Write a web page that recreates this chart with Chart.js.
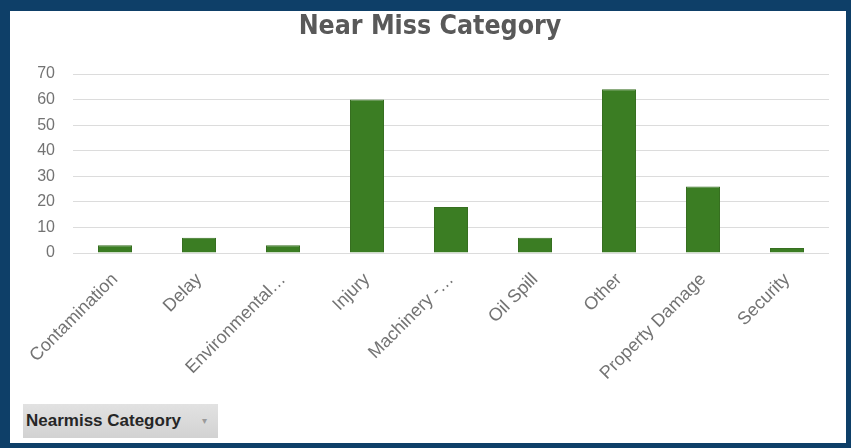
<!DOCTYPE html>
<html>
<head>
<meta charset="utf-8">
<script src="https://cdn.jsdelivr.net/npm/chart.js@4/dist/chart.umd.min.js"></script>
<style>
  html, body { margin: 0; padding: 0; background: #0e3f68; }
  #frame {
    position: absolute; left: 0; top: 0;
    width: 836px; height: 432px;
    border-style: solid; border-color: #0e3f68;
    border-width: 11px 5px 5px 10px;
    background: #ffffff;
  }
  #wrap { position: absolute; left: 0; top: 0; width: 836px; height: 432px; }
  #fieldBtn {
    position: absolute; left: 13px; top: 393px;
    width: 195px; height: 34px;
    background: linear-gradient(#e2e2e2, #d2d2d2);
    font-family: "Liberation Sans", Arial, sans-serif;
    font-size: 17px; font-weight: bold; color: #262626;
    line-height: 34px; box-sizing: border-box; padding-left: 3px;
    white-space: nowrap;
  }
  #fieldBtn span { position: absolute; left: 179px; top: 0; color: #9a9a9a; font-size: 10px; font-weight: normal; }
</style>
</head>
<body>
<div id="frame">
  <div id="wrap"><canvas id="chart" width="836" height="432"></canvas></div>
  <div id="fieldBtn">Nearmiss Category<span>▾</span></div>
</div>
<script>
// Near-miss counts per category
const categories = [
  "Contamination", "Delay", "Environmental…", "Injury", "Machinery -…",
  "Oil Spill", "Other", "Property Damage", "Security"
];
const counts = [3, 6, 3, 60, 18, 6, 64, 26, 2];
const yTicks = [0, 10, 20, 30, 40, 50, 60, 70];
const chartTitle = "Near Miss Category";

// Title centred over the whole canvas rather than the padded layout box
const centredTitle = {
  id: "centredTitle",
  afterDraw(chart) {
    const c = chart.ctx;
    c.save();
    c.fillStyle = "#595959";
    c.font = "bold 26.5px 'DejaVu Sans Condensed', 'Liberation Sans Narrow', 'Liberation Sans', sans-serif";
    c.textAlign = "center";
    c.textBaseline = "middle";
    c.fillText(chartTitle, chart.width / 2 + 2, 16);
    c.restore();
  }
};

const ctx = document.getElementById("chart");
new Chart(ctx, {
  type: "bar",
  data: {
    labels: categories,
    datasets: [{
      label: "Total",
      data: counts,
      backgroundColor: "#3b7d23",
      borderColor: "#376f21",
      borderWidth: 1,
      barPercentage: 0.405,
      categoryPercentage: 1.0
    }]
  },
  options: {
    responsive: false,
    animation: false,
    devicePixelRatio: 1,
    layout: { padding: { left: 0, right: 17, top: 63, bottom: 40 } },
    plugins: {
      legend: { display: false },
      tooltip: { enabled: false },
      title: { display: false }
    },
    scales: {
      x: {
        grid: { display: false, drawTicks: false },
        border: { display: false },
        ticks: {
          color: "#737373",
          font: { family: "'Liberation Sans', Arial, sans-serif", size: 18 },
          minRotation: 45, maxRotation: 45,
          autoSkip: false,
          padding: 16
        },
        afterFit(scale) { scale.height = 150; }
      },
      y: {
        min: 0, max: 70,
        afterBuildTicks(scale) { scale.ticks = yTicks.map(v => ({ value: v })); },
        grid: { color: "#dcdcdc", lineWidth: 1, drawTicks: false },
        border: { display: false },
        ticks: {
          color: "#737373",
          font: { family: "'Liberation Sans', Arial, sans-serif", size: 16 },
          padding: 18
        },
        afterFit(scale) { scale.width = 63; }
      }
    }
  },
  plugins: [centredTitle]
});
</script>
</body>
</html>
